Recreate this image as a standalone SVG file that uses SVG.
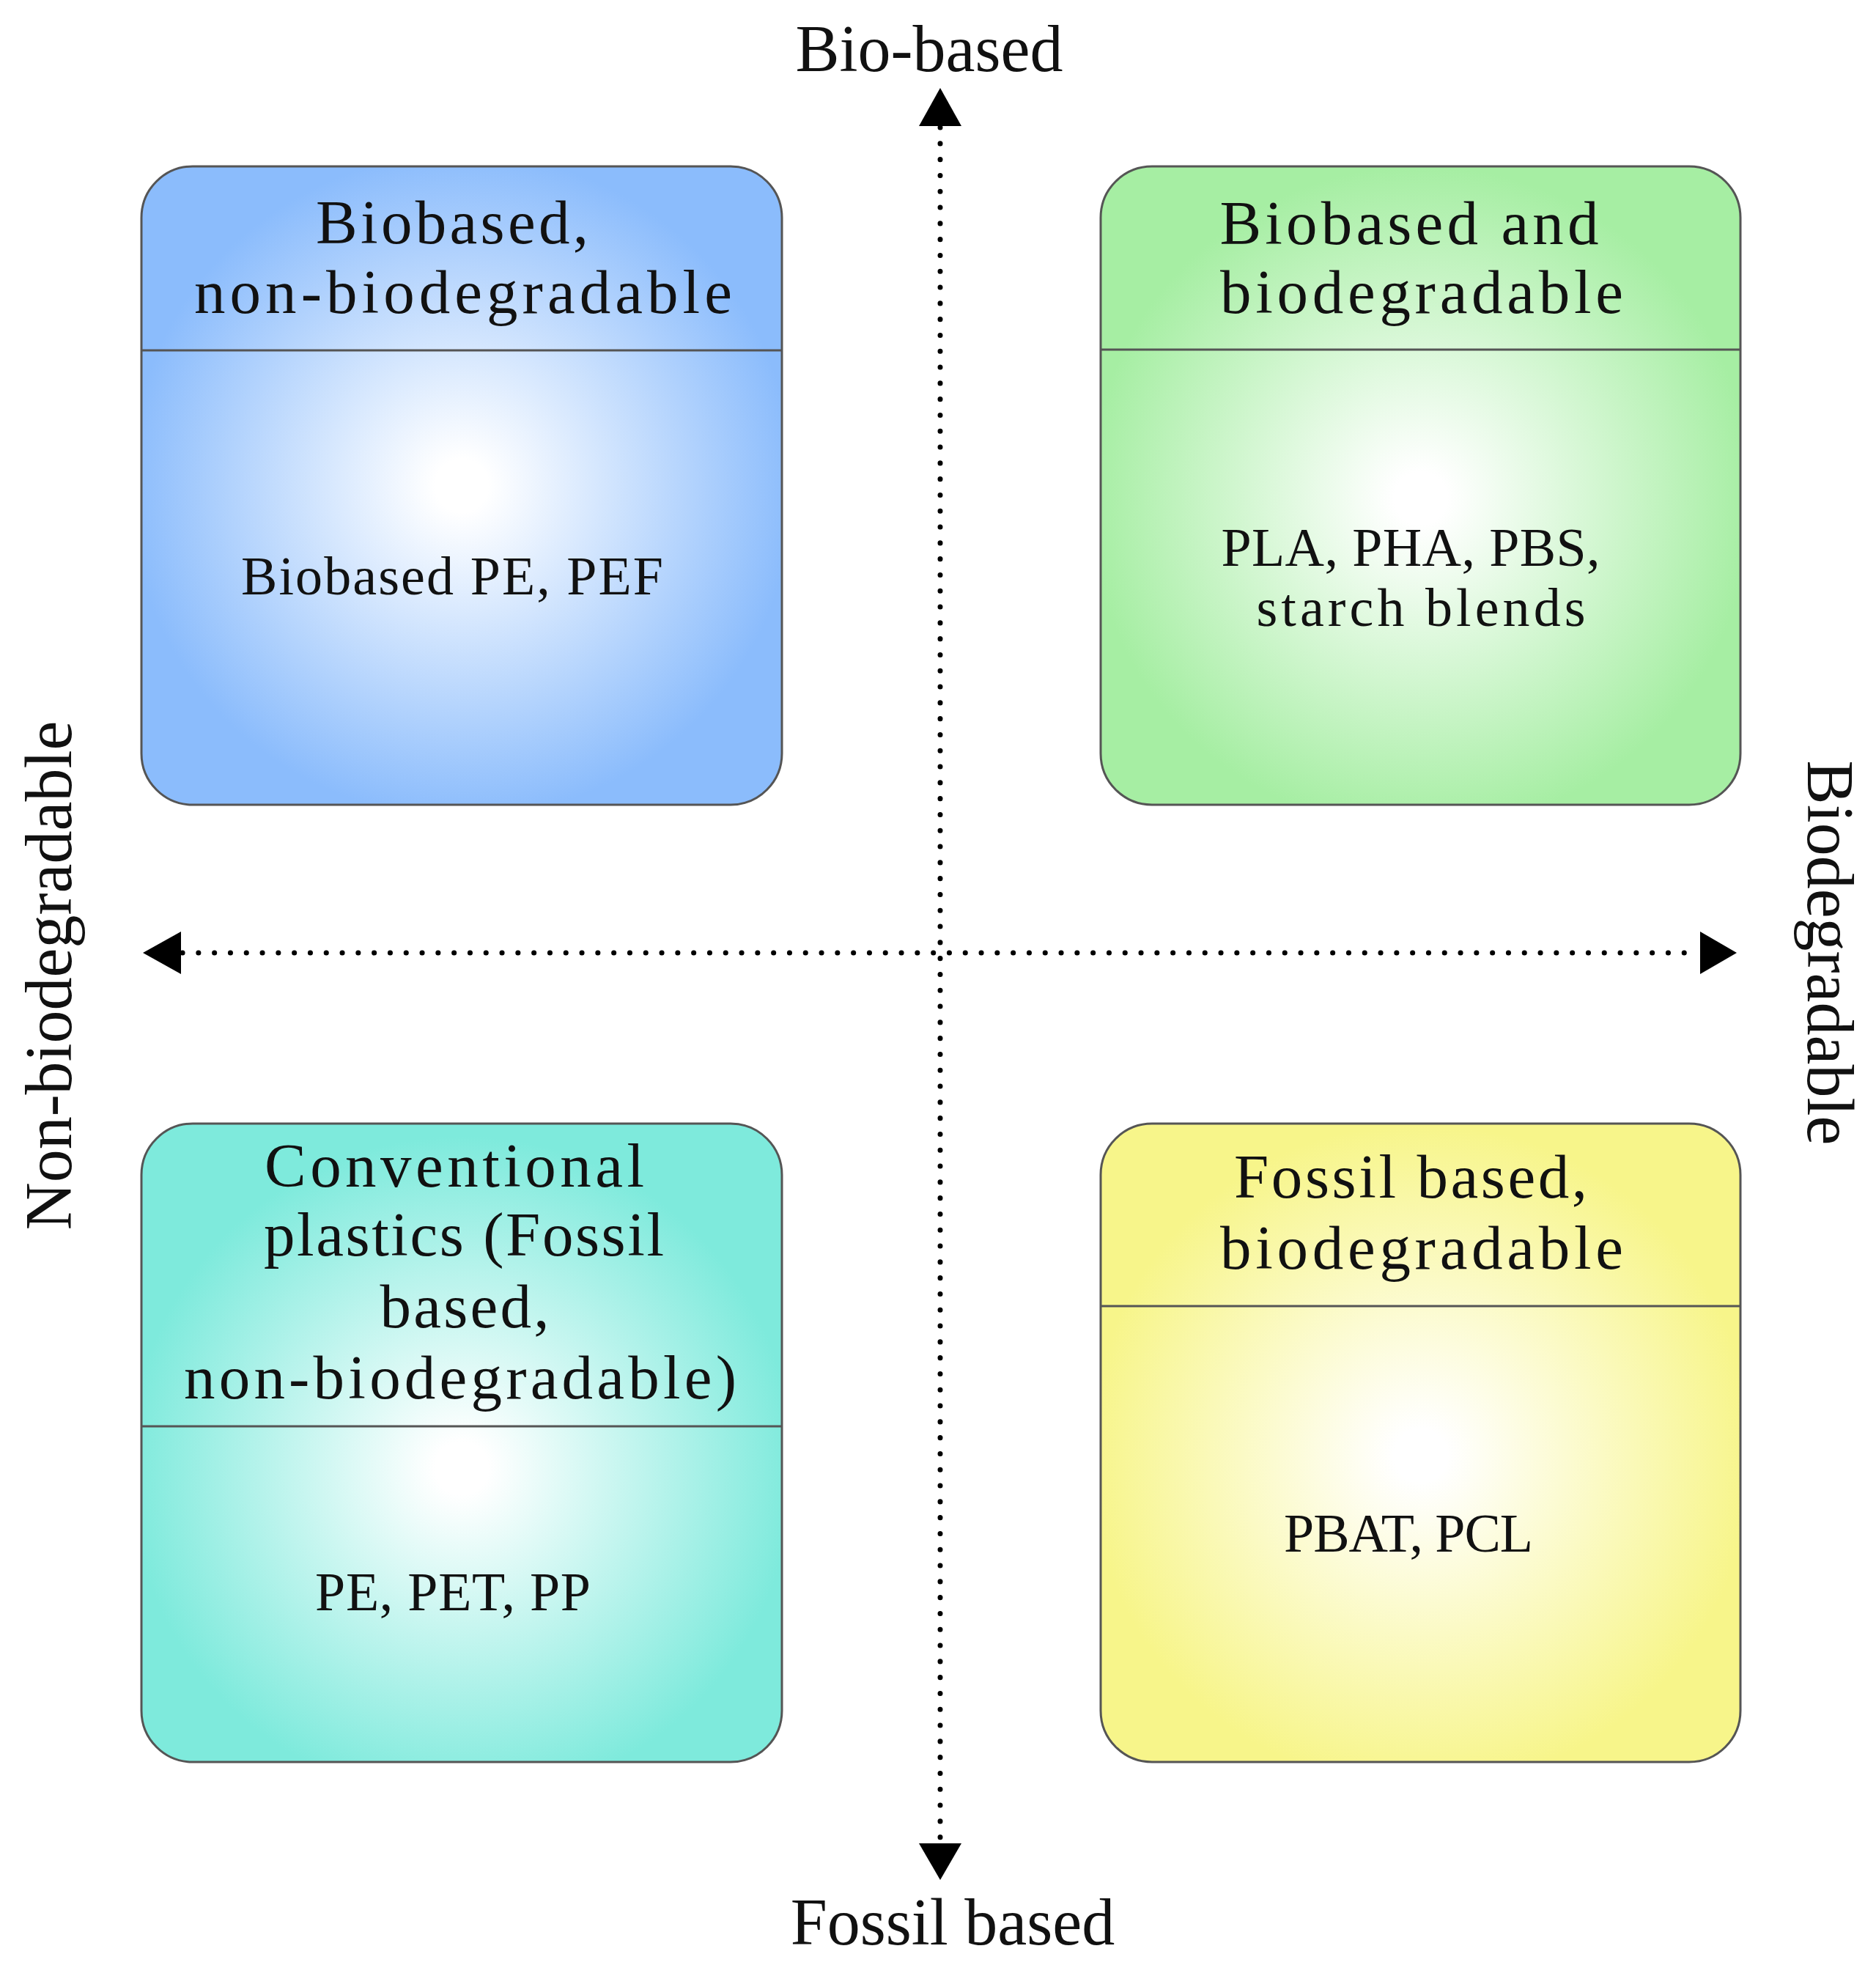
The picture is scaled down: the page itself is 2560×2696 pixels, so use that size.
<svg xmlns="http://www.w3.org/2000/svg" width="2560" height="2696" viewBox="0 0 2560 2696">
<style>
.t{font-family:"Liberation Serif","Times New Roman",serif;fill:#111;text-anchor:middle}
.title{font-size:85px}
.body{font-size:74px}
.axis{font-size:90px}
.box{stroke:#555;stroke-width:3}
.div{stroke:#555;stroke-width:3;fill:none}
.dot{stroke:#000;stroke-width:7;stroke-linecap:round;stroke-dasharray:0.1 21.7;fill:none}
.head{fill:#000}
</style>
<defs>
<radialGradient id="gBlue" cx="0.5" cy="0.5" r="0.52">
<stop offset="0" stop-color="#ffffff"/><stop offset="0.08" stop-color="#ffffff"/><stop offset="1" stop-color="#8bbcfc"/>
</radialGradient>
<radialGradient id="gGreen" cx="0.5" cy="0.52" r="0.52">
<stop offset="0" stop-color="#ffffff"/><stop offset="0.08" stop-color="#ffffff"/><stop offset="1" stop-color="#a6eea3"/>
</radialGradient>
<radialGradient id="gTeal" cx="0.5" cy="0.54" r="0.52">
<stop offset="0" stop-color="#ffffff"/><stop offset="0.08" stop-color="#ffffff"/><stop offset="1" stop-color="#7eeadc"/>
</radialGradient>
<radialGradient id="gYellow" cx="0.5" cy="0.52" r="0.52">
<stop offset="0" stop-color="#ffffff"/><stop offset="0.08" stop-color="#ffffff"/><stop offset="1" stop-color="#f7f58a"/>
</radialGradient>
</defs>
<rect width="2560" height="2696" fill="#ffffff"/>

<g id="connectors">
<line class="dot" x1="1283" y1="174" x2="1283" y2="2513"/>
<line class="dot" x1="249" y1="1300" x2="2318" y2="1300"/>
<polygon class="head" points="1283,120 1312,172 1254,172"/>
<polygon class="head" points="1283,2565 1312,2515 1254,2515"/>
<polygon class="head" points="195,1300 247,1271 247,1329"/>
<polygon class="head" points="2370,1300 2320,1271 2320,1329"/>
</g>

<g id="axis-labels">
<text class="t axis" x="1268" y="97">Bio-based</text>
<text class="t axis" x="1300" y="2653">Fossil based</text>
<text class="t axis" transform="translate(97,1331) rotate(-90)">Non-biodegradable</text>
<text class="t axis" transform="translate(2467,1300) rotate(90)">Biodegradable</text>
</g>

<g id="node-biobased-nonbiodegradable">
<rect class="box" x="193" y="227" width="874" height="871" rx="70" ry="70" fill="url(#gBlue)"/>
<line class="div" x1="193" y1="478" x2="1067" y2="478"/>
<text class="t title" x="617" y="332" textLength="372" lengthAdjust="spacing">Biobased,</text>
<text class="t title" x="632" y="427" textLength="734" lengthAdjust="spacing">non-biodegradable</text>
<text class="t body" x="617" y="811" textLength="576" lengthAdjust="spacing">Biobased PE, PEF</text>
</g>

<g id="node-biobased-biodegradable">
<rect class="box" x="1502" y="227" width="873" height="871" rx="70" ry="70" fill="url(#gGreen)"/>
<line class="div" x1="1502" y1="477" x2="2375" y2="477"/>
<text class="t title" x="1923" y="333" textLength="517" lengthAdjust="spacing">Biobased and</text>
<text class="t title" x="1940" y="427" textLength="550" lengthAdjust="spacing">biodegradable</text>
<text class="t body" x="1925" y="772" textLength="517" lengthAdjust="spacing">PLA, PHA, PBS,</text>
<text class="t body" x="1939" y="854" textLength="449" lengthAdjust="spacing">starch blends</text>
</g>

<g id="node-conventional">
<rect class="box" x="193" y="1533" width="874" height="871" rx="70" ry="70" fill="url(#gTeal)"/>
<line class="div" x1="193" y1="1946" x2="1067" y2="1946"/>
<text class="t title" x="620" y="1619" textLength="518" lengthAdjust="spacing">Conventional</text>
<text class="t title" x="633" y="1713" textLength="546" lengthAdjust="spacing">plastics (Fossil</text>
<text class="t title" x="634" y="1811" textLength="231" lengthAdjust="spacing">based,</text>
<text class="t title" x="628" y="1908" textLength="754" lengthAdjust="spacing">non-biodegradable)</text>
<text class="t body" x="618" y="2197" textLength="376" lengthAdjust="spacing">PE, PET, PP</text>
</g>

<g id="node-fossil-biodegradable">
<rect class="box" x="1502" y="1533" width="873" height="871" rx="70" ry="70" fill="url(#gYellow)"/>
<line class="div" x1="1502" y1="1782" x2="2375" y2="1782"/>
<text class="t title" x="1925" y="1634" textLength="482" lengthAdjust="spacing">Fossil based,</text>
<text class="t title" x="1940" y="1731" textLength="550" lengthAdjust="spacing">biodegradable</text>
<text class="t body" x="1922" y="2117" textLength="340" lengthAdjust="spacing">PBAT, PCL</text>
</g>
</svg>
